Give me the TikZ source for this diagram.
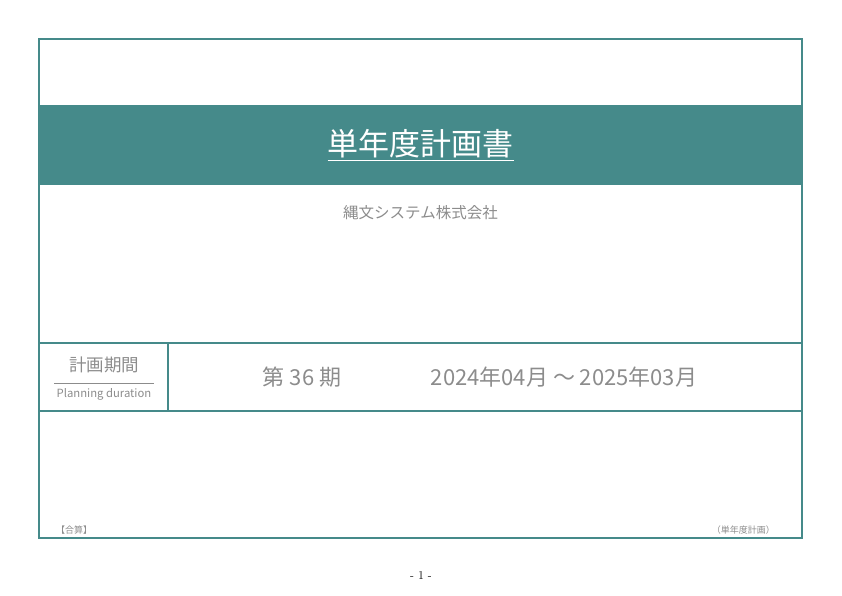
\documentclass[tikz,border=0pt]{standalone}
\usepackage{fontspec}
\newfontfamily\cjk{Noto Sans CJK JP}
\definecolor{bandteal}{HTML}{458A8A}
\definecolor{txtgray}{HTML}{8C8C8C}
\tikzset{
  frame/.style={draw=bandteal,line width=1.5pt},
  graytext/.style={text=txtgray,inner sep=0pt}
}
\begin{document}
\begin{tikzpicture}[x=1pt,y=-1pt]
  \useasboundingbox (0,0) rectangle (842,595);
  \fill[bandteal] (39,105) rectangle (802,185);
  \draw[frame] (39,39) rectangle (802,538);
  \draw[frame] (39,343) -- (802,343);
  \draw[frame] (39,411) -- (802,411);
  \draw[frame] (168,343) -- (168,411);
  \node[font=\cjk\fontsize{31}{36}\selectfont,text=white,inner sep=1pt] (title) at (420.5,145) {\underline{単年度計画書}};
  \node[graytext,font=\cjk\fontsize{15.5}{18}\selectfont] (company) at (420.5,213) {縄文システム株式会社};
  \node[graytext,font=\cjk\fontsize{17.5}{20}\selectfont] (plan) at (104,365) {計画期間};
  \node[graytext,font=\cjk\fontsize{11.3}{13}\selectfont] (planen) at (104,394) {Planning duration};
  \draw[txtgray,line width=0.5pt] (54,383) -- (154,383);
  \node[graytext,font=\cjk\fontsize{22}{26}\selectfont] (term) at (302,377) {第 36 期};
  \node[graytext,font=\cjk\fontsize{22}{26}\selectfont] (period) at (564,377) {2024年04月 ～ 2025年03月};
  \node[graytext,font=\cjk\fontsize{9}{11}\selectfont,anchor=west] (sum) at (56,530) {【合算】};
  \node[graytext,font=\cjk\fontsize{9}{11}\selectfont,anchor=east] (kind) at (775,530) {（単年度計画）};
  \node[font=\fontsize{12}{14}\selectfont,inner sep=0pt] (page) at (421,575) {- 1 -};
\end{tikzpicture}
\end{document}
